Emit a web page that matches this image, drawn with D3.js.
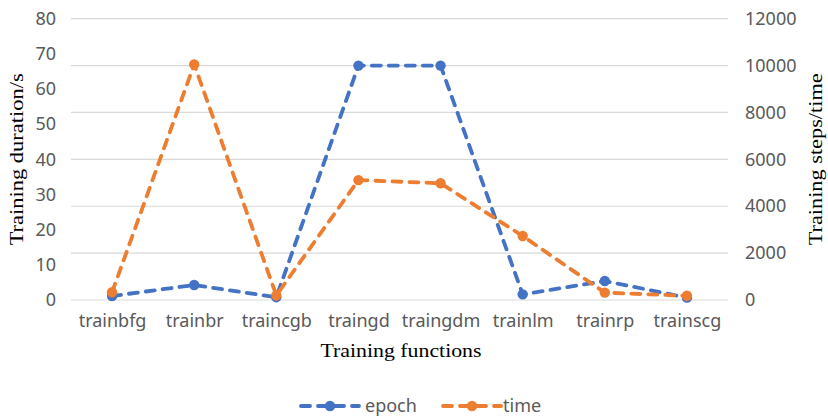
<!DOCTYPE html>
<html>
<head>
<meta charset="utf-8">
<script src="https://cdn.jsdelivr.net/npm/d3@7"></script>
<style>
  html, body { margin: 0; padding: 0; background: #ffffff; }
  svg { display: block; }
</style>
</head>
<body>
<svg id="chart" width="828" height="417"></svg>
<script>
const categories = ["trainbfg", "trainbr", "traincgb", "traingd", "traingdm", "trainlm", "trainrp", "trainscg"];
const epochValues = [170, 640, 120, 10000, 10000, 240, 810, 100];   // Training steps (right axis)
const timeValues = [2.2, 67.0, 1.3, 34.1, 33.2, 18.2, 2.1, 1.2];      // Training duration/s (left axis)
const leftTicks = [0, 10, 20, 30, 40, 50, 60, 70, 80];
const rightTicks = [0, 2000, 4000, 6000, 8000, 10000, 12000];
const seriesNames = ["epoch", "time"];

const W = 828, H = 417;
const m = { left: 71, right: 100, top: 18.7, bottom: 117 };
const x0 = m.left, x1 = W - m.right, yTop = m.top, yBot = H - m.bottom;

const svg = d3.select("#chart");
const blue = "#4472C4", orange = "#ED7D31", labelColor = "#595959";
const sans = "'Noto Sans', sans-serif", serif = "'Liberation Serif', 'Times New Roman', serif";

const x = d3.scalePoint().domain(categories).range([x0, x1]).padding(0.5);
const yLeft = d3.scaleLinear().domain([0, 80]).range([yBot, yTop]);
const yRight = d3.scaleLinear().domain([0, 12000]).range([yBot, yTop]);

// gridlines (from right axis ticks)
svg.append("g").selectAll("line").data(rightTicks).join("line")
  .attr("x1", x0).attr("x2", x1)
  .attr("y1", d => yRight(d)).attr("y2", d => yRight(d))
  .attr("stroke", "#d9d9d9").attr("stroke-width", 1.2);

// left axis
const gl = svg.append("g").attr("transform", `translate(${x0},0)`)
  .call(d3.axisLeft(yLeft).tickValues(leftTicks).tickSize(0).tickPadding(15));
gl.select(".domain").remove();
gl.selectAll("text").attr("font-family", sans).attr("font-size", 18).attr("fill", labelColor);

// right axis
const gr = svg.append("g").attr("transform", `translate(${x1},0)`)
  .call(d3.axisRight(yRight).tickValues(rightTicks).tickSize(0).tickPadding(17).tickFormat(d3.format("d")));
gr.select(".domain").remove();
gr.selectAll("text").attr("font-family", sans).attr("font-size", 18).attr("fill", labelColor);

// bottom axis
const gb = svg.append("g").attr("transform", `translate(0,${yBot})`)
  .call(d3.axisBottom(x).tickSize(0).tickPadding(14));
gb.select(".domain").remove();
gb.selectAll("text").attr("font-family", sans).attr("font-size", 18).attr("fill", labelColor);

// axis titles
svg.append("text").text("Training functions")
  .attr("x", (x0 + x1) / 2 + 1.5).attr("y", 357).attr("text-anchor", "middle")
  .attr("font-family", serif).attr("font-size", 19).attr("fill", "#000")
  .attr("textLength", 161).attr("lengthAdjust", "spacingAndGlyphs");
svg.append("text").text("Training duration/s")
  .attr("transform", `translate(23,${(yTop + yBot) / 2}) rotate(-90)`).attr("text-anchor", "middle")
  .attr("font-family", serif).attr("font-size", 19).attr("fill", "#000")
  .attr("textLength", 172).attr("lengthAdjust", "spacingAndGlyphs");
svg.append("text").text("Training steps/time")
  .attr("transform", `translate(822,${(yTop + yBot) / 2}) rotate(-90)`).attr("text-anchor", "middle")
  .attr("font-family", serif).attr("font-size", 19).attr("fill", "#000")
  .attr("textLength", 172).attr("lengthAdjust", "spacingAndGlyphs");

// series
const series = [
  { name: seriesNames[0], values: epochValues, y: yRight, color: blue },
  { name: seriesNames[1], values: timeValues, y: yLeft, color: orange }
];
series.forEach(s => {
  const pts = categories.map((c, i) => [x(c), s.y(s.values[i])]);
  svg.append("path").attr("d", d3.line()(pts))
    .attr("fill", "none").attr("stroke", s.color).attr("stroke-width", 3.8)
    .attr("stroke-dasharray", "9,8").attr("stroke-linecap", "round");
  svg.append("g").selectAll("circle").data(pts).join("circle")
    .attr("cx", d => d[0]).attr("cy", d => d[1]).attr("r", 5.2)
    .attr("fill", s.color);
});

// legend
const legendItems = [
  { name: seriesNames[0], color: blue, lx: 301, tx: 365 },
  { name: seriesNames[1], color: orange, lx: 443, tx: 503 }
];
const ly = 406;
legendItems.forEach(it => {
  svg.append("line").attr("x1", it.lx).attr("x2", it.lx + 58).attr("y1", ly).attr("y2", ly)
    .attr("stroke", it.color).attr("stroke-width", 3.8)
    .attr("stroke-dasharray", "9,8").attr("stroke-linecap", "round");
  svg.append("circle").attr("cx", it.lx + 29).attr("cy", ly).attr("r", 5.2).attr("fill", it.color);
  svg.append("text").text(it.name).attr("x", it.tx).attr("y", ly).attr("dy", "0.35em")
    .attr("font-family", sans).attr("font-size", 18).attr("fill", labelColor);
});
</script>
</body>
</html>
